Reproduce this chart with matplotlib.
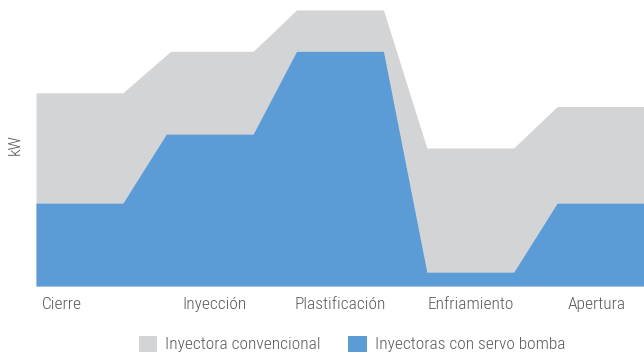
import matplotlib.pyplot as plt
from matplotlib.patches import Patch
from matplotlib import font_manager

# ---------------- DATA ----------------
tiempo = [0, 2, 3.1, 5, 6, 8, 9, 11, 12, 14]
tiempo_servo = [0, 2, 3, 5, 6, 8, 9, 11, 12, 14]
kw_convencional = [70, 70, 85, 85, 100, 100, 50, 50, 65, 65]
kw_servo = [30, 30, 55, 55, 85, 85, 5, 5, 30, 30]
fases = ["Cierre", "Inyección", "Plastificación", "Enfriamiento", "Apertura"]
fases_pos = [0.6, 4.1, 7.0, 10.0, 12.9]
series = ["Inyectora convencional", "Inyectoras con servo bomba"]
# --------------------------------------

GRIS = "#d3d4d6"
AZUL = "#5b9bd6"
TEXTO = "#5a5a5a"
FS = 12.5

names = {f.name for f in font_manager.fontManager.ttflist}
for cand in ["Roboto Condensed", "Archivo Narrow", "Barlow Semi Condensed", "DejaVu Sans"]:
    if cand in names:
        fam = cand
        break
plt.rcParams["font.family"] = [fam, "DejaVu Sans"]
plt.rcParams["font.weight"] = "light"

fig = plt.figure(figsize=(6.44, 3.58), dpi=100)
ax = fig.add_axes([36 / 644, 72 / 358, 1 - 36 / 644, 286 / 358])

ax.fill_between(tiempo, 0, kw_convencional, color=GRIS, linewidth=0)
ax.fill_between(tiempo_servo, 0, kw_servo, color=AZUL, linewidth=0)

ax.set_xlim(0, 14)
ax.set_ylim(0, 103.6)
ax.set_yticks([])
ax.set_xticks(fases_pos)
ax.set_xticklabels(fases, fontsize=FS, color=TEXTO, va="baseline")
ax.tick_params(axis="x", length=0, pad=16.5)
for s in ax.spines.values():
    s.set_visible(False)

fig.text(15 / 644, 1 - 145 / 358, "kW", rotation=90, ha="center", va="center",
         fontsize=FS, color=TEXTO)

handles = [Patch(facecolor=GRIS, edgecolor="none"), Patch(facecolor=AZUL, edgecolor="none")]
leg = fig.legend(handles, series, loc="center", bbox_to_anchor=(352 / 644, 1 - 344 / 358),
                 ncol=2, frameon=False, fontsize=FS, handlelength=1.05, handleheight=1.05,
                 handletextpad=0.46, columnspacing=1.6)
for t in leg.get_texts():
    t.set_color(TEXTO)

fig.savefig("out.png", dpi=100)
